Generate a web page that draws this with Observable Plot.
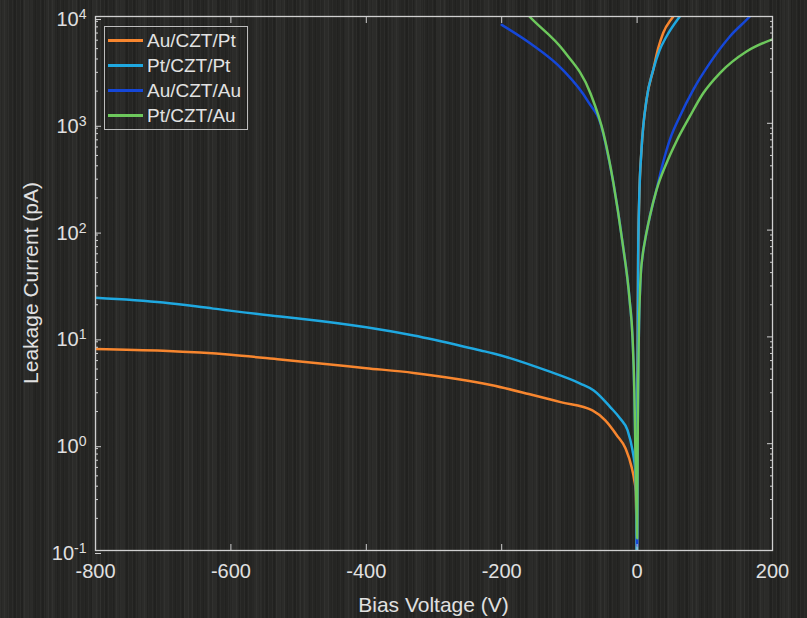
<!DOCTYPE html>
<html>
<head>
<meta charset="utf-8">
<script src="https://cdn.jsdelivr.net/npm/d3@7"></script>
<script src="https://cdn.jsdelivr.net/npm/@observablehq/plot@0.6"></script>
<style>
  html, body { margin: 0; padding: 0; background: #262624; }
  #wrap {
    position: relative; width: 807px; height: 618px; overflow: hidden;
    background-color: #272725;
    background-image:
      repeating-linear-gradient(90deg, rgba(255,255,255,0.03) 0px, rgba(255,255,255,0.03) 1px, rgba(0,0,0,0) 1px, rgba(0,0,0,0) 4px),
      repeating-linear-gradient(90deg, rgba(0,0,0,0.10) 0px, rgba(0,0,0,0.10) 2px, rgba(0,0,0,0) 2px, rgba(0,0,0,0) 7px),
      repeating-linear-gradient(90deg, rgba(255,255,255,0.02) 0px, rgba(255,255,255,0.02) 9px, rgba(0,0,0,0.06) 9px, rgba(0,0,0,0.06) 23px);
    font-family: "Liberation Sans", Arial, Helvetica, sans-serif;
  }
  #legend {
    position: absolute; border: 1px solid #bdbdbd; box-sizing: border-box;
    padding: 1px 6px 1px 3px; color: #e2e2e2; font-size: 19px;
  }
  #legend .row { display: flex; align-items: center; height: 25px; white-space: nowrap; }
  #legend .sw { width: 35px; height: 2.5px; margin-right: 4px; }
</style>
</head>
<body>
<div id="wrap"></div>
<script>
// ---- data ----
const seriesNames = ["Au/CZT/Pt", "Pt/CZT/Pt", "Au/CZT/Au", "Pt/CZT/Au"];
const seriesColors = ["#F7862F", "#1FA8E0", "#1547D8", "#6DC85C"];

// Au/CZT/Pt
const auPtV = [-800, -700, -600, -527, -400, -330, -216, -160, -113, -66, -47, -30, -17, -8, -4, -2, 0, 0.4, 1, 1.6, 3.1, 6.5, 13.9, 23.8, 31, 38.5, 53.3, 60];
const auPtI = [7.7, 7.4, 6.8, 6.14, 5.1, 4.6, 3.55, 2.92, 2.45, 2.05, 1.65, 1.2, 0.9, 0.6, 0.45, 0.36, 0.08, 1, 10, 57, 192, 565, 1660, 3160, 5000, 7000, 10000, 11700];

// Pt/CZT/Pt
const ptPtV = [-800, -700, -626, -527, -497, -400, -330, -231, -212, -132, -84, -64, -39, -25, -14, -7, -2, 0, 0.4, 1, 1.6, 3.1, 6.5, 13.9, 23.8, 33, 43.4, 63, 70];
const ptPtI = [23.3, 21, 18.4, 15.5, 14.8, 12.3, 10.3, 7.46, 7.0, 4.8, 3.66, 3.15, 2.18, 1.72, 1.33, 0.88, 0.5, 0.05, 1, 10, 57, 192, 565, 1660, 3160, 4800, 6500, 10000, 11500];

// Au/CZT/Au
const auAuV = [-200, -157.5, -108.7, -73.3, -51.1, -46, -34.9, -22, -11, -6.8, -4, -2.5, -1, 0, 0.4, 1, 2.5, 5, 8, 11.4, 18.8, 28.7, 38, 48.3, 63.1, 82.9, 107.4, 137, 166.5, 175];
const auAuI = [8360, 5590, 3120, 1630, 857, 620, 273, 80, 22, 10, 3, 0.85, 0.25, 0.11, 0.3, 1.5, 10, 34, 57, 78, 134, 240, 420, 700, 1160, 2060, 3660, 6500, 10000, 11500];

// Pt/CZT/Au
const ptAuV = [-165, -159, -108.7, -68.8, -49.6, -34.9, -22, -11, -6.8, -4, -2.5, -1, 0, 0.4, 1, 2.5, 5, 8, 11.4, 18.8, 28.7, 43.4, 58.2, 77.9, 97.6, 122, 161.6, 200];
const ptAuI = [11000, 10000, 4800, 1900, 800, 273, 80, 22, 10, 3, 0.85, 0.25, 0.13, 0.3, 1.5, 10, 34, 57, 78, 134, 238, 423, 680, 1160, 1910, 2940, 4700, 6120];

const xTicks = [-800, -600, -400, -200, 0, 200];
const yMajor = [0.1, 1, 10, 100, 1000, 10000];
const yMinor = [];
for (let k = -1; k <= 3; k++) for (let m = 2; m <= 9; m++) yMinor.push(m * Math.pow(10, k));

// ---- build table ----
const seriesV = [auPtV, ptPtV, auAuV, ptAuV];
const seriesI = [auPtI, ptPtI, auAuI, ptAuI];
const rows = [];
seriesNames.forEach((name, s) => {
  seriesV[s].forEach((v, i) => rows.push({series: name, V: v, I: seriesI[s][i]}));
});

const axisColor = "#cfcfcf";
const textColor = "#e0e0e0";

const chart = Plot.plot({
  width: 807,
  height: 618,
  marginLeft: 95,
  marginRight: 35,
  marginTop: 16,
  marginBottom: 68,
  style: {background: "transparent", color: textColor, fontFamily: "'Liberation Sans', Arial, sans-serif", fontSize: "20px"},
  x: {domain: [-800, 200]},
  y: {type: "log", domain: [0.1, 10000]},
  color: {domain: seriesNames, range: seriesColors},
  marks: [
    Plot.line(rows, {x: "V", y: "I", z: "series", stroke: "series", strokeWidth: 2.5, curve: "monotone-x", clip: true}),
    Plot.frame({stroke: axisColor, strokeWidth: 1.3}),
    Plot.axisX({anchor: "bottom", ticks: xTicks, tickSize: -6, tickPadding: 19, stroke: axisColor, fill: textColor, label: null, tickFormat: d => String(d)}),
    Plot.axisX({anchor: "top", ticks: xTicks, tickSize: -6, stroke: axisColor, fill: "none", label: null, tickFormat: d => ""}),
    Plot.axisY({anchor: "left", ticks: yMajor, tickSize: -6, tickPadding: 15, dy: 3, stroke: axisColor, fill: textColor, label: null, tickFormat: d => String(Math.round(Math.log10(d)))}),
    Plot.axisY({anchor: "left", ticks: yMinor, tickSize: -3, stroke: axisColor, fill: "none", label: null, tickFormat: d => ""}),
    Plot.axisY({anchor: "right", ticks: yMajor, tickSize: -6, stroke: axisColor, fill: "none", label: null, tickFormat: d => ""}),
    Plot.axisY({anchor: "right", ticks: yMinor, tickSize: -3, stroke: axisColor, fill: "none", label: null, tickFormat: d => ""})
  ]
});

const wrap = document.getElementById("wrap");
wrap.appendChild(chart);
chart.style.position = "absolute";
chart.style.left = "0px";
chart.style.top = "0px";

const svg = d3.select(chart);
// superscript exponents on y tick labels
svg.selectAll('g[aria-label="y-axis tick label"] text').each(function() {
  const e = this.textContent;
  if (e === "") return;
  this.textContent = "10";
  d3.select(this).append("tspan").attr("dy", "-0.5em").attr("font-size", "0.7em").text(e);
});

const xr = chart.scale("x").range;
const yr = chart.scale("y").range;
const xMid = (xr[0] + xr[1]) / 2;
const yMid = (yr[0] + yr[1]) / 2;
const xBottom = Math.max(yr[0], yr[1]);
const yTop = Math.min(yr[0], yr[1]);

svg.append("text")
  .attr("x", xMid).attr("y", xBottom + 62)
  .attr("text-anchor", "middle").attr("fill", textColor)
  .style("font-size", "21px").text("Bias Voltage (V)");
svg.append("text")
  .attr("transform", `translate(${xr[0] - 57},${yMid}) rotate(-90)`)
  .attr("text-anchor", "middle").attr("fill", textColor)
  .style("font-size", "21px").text("Leakage Current (pA)");

// legend (inside plot, top-left)
const legend = document.createElement("div");
legend.id = "legend";
legend.style.left = (xr[0] + 9) + "px";
legend.style.top = (yTop + 10) + "px";
seriesNames.forEach((name, i) => {
  const row = document.createElement("div");
  row.className = "row";
  const sw = document.createElement("div");
  sw.className = "sw";
  sw.style.background = seriesColors[i];
  const t = document.createElement("span");
  t.textContent = name;
  row.appendChild(sw);
  row.appendChild(t);
  legend.appendChild(row);
});
wrap.appendChild(legend);
</script>
</body>
</html>
